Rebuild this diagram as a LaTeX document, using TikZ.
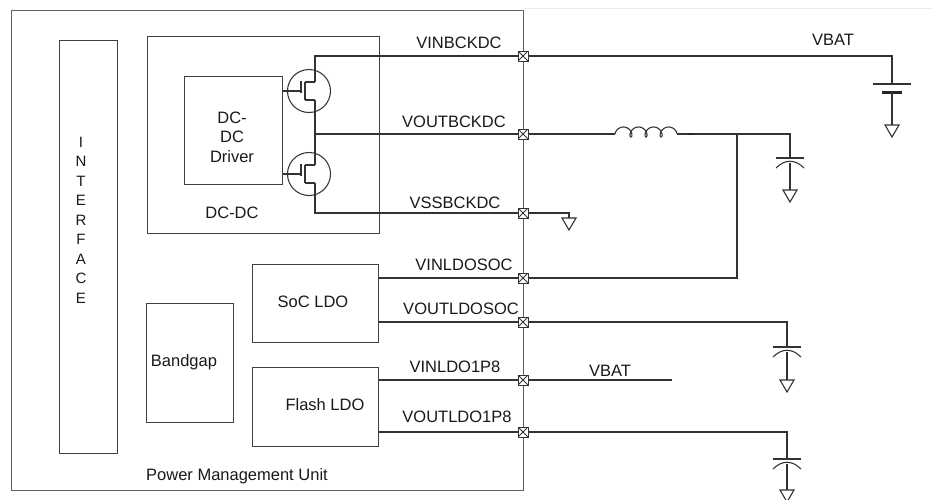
\documentclass[tikz,border=0pt]{standalone}
\usepackage{fontspec}
\setmainfont{Liberation Sans}
\begin{document}
\begin{tikzpicture}[x=1pt,y=-1pt,
  wire/.style={draw=black!80,line width=1.1pt},
  blk/.style={draw=black!75,line width=1.1pt},
  lbl/.style={font=\fontsize{16.5}{19}\selectfont,text=black!90,inner sep=0pt},
  pad/.style={draw=black!80,fill=white,line width=1pt,minimum size=10pt,inner sep=0pt,
    path picture={\draw[black!80,line width=0.8pt] (path picture bounding box.north west)--(path picture bounding box.south east)
      (path picture bounding box.north east)--(path picture bounding box.south west);}},
  gnd/.pic={\draw[black!80,line width=1.1pt,fill=white] (-7,0)--(7,0)--(0,12)--cycle;},
  capp/.pic={\draw[black!80,line width=1.1pt] (-14,0)--(14,0);
     \draw[black!80,line width=1.1pt] (-14,10) .. controls (-5,1) and (5,1) .. (14,10);}
]
\useasboundingbox (0,0) rectangle (933,499);
\draw[black!8,line width=1pt] (523,8)--(933,8);

% main box
\node[blk,draw=black!62,minimum width=512pt,minimum height=480pt,anchor=north west,inner sep=0pt] (pmu) at (11,10) {};
\node[lbl,anchor=west] (pmulbl) at (146,476) {Power Management Unit};

% interface
\node[blk,anchor=north west,minimum width=58pt,minimum height=413pt,inner sep=0pt] (intf) at (59,40) {};
\node[font=\fontsize{15}{19.5}\selectfont,align=center,inner sep=0pt,text=black!90] (intflbl) at (81,220) {I\\N\\T\\E\\R\\F\\A\\C\\E};

% DC-DC
\node[blk,anchor=north west,minimum width=232pt,minimum height=197pt,inner sep=0pt] (dcdc) at (147,36) {};
\node[lbl] (dcdclbl) at (232,213) {DC-DC};
\node[blk,anchor=north west,minimum width=98pt,minimum height=108pt,inner sep=0pt] (drv) at (184,76) {};
\node[lbl,font=\fontsize{16.5}{19.5}\selectfont,align=center] (drvlbl) at (232,137) {DC-\\DC\\Driver};

% mosfets
\node[draw=black!78,line width=1.1pt,circle,minimum size=43pt,inner sep=0pt] (m1) at (309,91) {};
\node[draw=black!78,line width=1.1pt,circle,minimum size=43pt,inner sep=0pt] (m2) at (309,174) {};
\coordinate (g1) at (301,91);
\coordinate (g2) at (301,174);
\draw[wire] (drv.east |- g1) -- (g1);
\draw[wire] (drv.east |- g2) -- (g2);
\fill[black!80] (g1) circle (1.4);
\draw[wire] (301,81)--(301,93);
\draw[wire,line width=1.6pt] (305,82)--(305,100);
\draw[wire] (305,82)--(315,82) (305,100)--(315,100);
\draw[wire] (301,164)--(301,176);
\draw[wire,line width=1.6pt] (305,165)--(305,183);
\draw[wire] (305,165)--(315,165) (305,183)--(315,183);

% LDO and bandgap
\node[blk,anchor=north west,minimum width=126pt,minimum height=78pt,inner sep=0pt] (soc) at (252,264) {};
\node[lbl] (soclbl) at (313,302) {SoC LDO};
\node[blk,anchor=north west,minimum width=126pt,minimum height=79pt,inner sep=0pt] (flash) at (252,367) {};
\node[lbl] (flashlbl) at (325,405) {Flash LDO};
\node[blk,anchor=north west,minimum width=87pt,minimum height=119pt,inner sep=0pt] (bg) at (146,303) {};
\node[lbl] (bglbl) at (184,362) {Bandgap};

% pads
\node[pad] (p1) at (523,56) {};
\node[pad] (p2) at (523,134) {};
\node[pad] (p3) at (523,213) {};
\node[pad] (p4) at (523,278) {};
\node[pad] (p5) at (523,322) {};
\node[pad] (p6) at (523,380) {};
\node[pad] (p7) at (523,432) {};

% pad labels
\node[lbl] at (459,43) {VINBCKDC};
\node[lbl] at (454,122) {VOUTBCKDC};
\node[lbl] at (455,203) {VSSBCKDC};
\node[lbl] at (464,265) {VINLDOSOC};
\node[lbl] at (461,309) {VOUTLDOSOC};
\node[lbl] at (455,367) {VINLDO1P8};
\node[lbl] at (457,417) {VOUTLDO1P8};

% internal wires
\coordinate (d1) at (315,82);
\coordinate (t1) at (315,56);
\coordinate (s1) at (315,100);
\coordinate (mid) at (315,134);
\coordinate (d2) at (315,165);
\coordinate (s2) at (315,183);
\coordinate (bot) at (315,213);
\draw[wire] (d1) -- (t1) -- (p1.west);
\draw[wire] (s1) -- (d2);
\draw[wire] (mid) -- (p2.west);
\draw[wire] (s2) -- (bot) -- (p3.west);
\draw[wire] (soc.east |- p4) -- (p4.west);
\draw[wire] (soc.east |- p5) -- (p5.west);
\draw[wire] (flash.east |- p6) -- (p6.west);
\draw[wire] (flash.east |- p7) -- (p7.west);

% VBAT battery
\coordinate (bt) at (892,56);
\coordinate (bp) at (892,84);
\draw[wire] (p1.east) -- (bt) -- (bp);
\draw[wire] (873,84) -- (911,84);
\draw[black!85,line width=3pt] (882,92) -- (902,92);
\coordinate (bg1) at (892,125);
\draw[wire] (892,92) -- (bg1);
\pic at (bg1) {gnd};
\node[lbl] (vbat1) at (833,40) {VBAT};

% inductor
\coordinate (l1) at (615,134);
\coordinate (l2) at (677,134);
\coordinate (jn) at (737,134);
\coordinate (c1) at (790,134);
\draw[wire] (p2.east) -- (l1);
\draw[wire,line join=round] plot[domain=1.16:23.97,samples=240,variable=\t,smooth]
  ({615 + 2.40*(\t-1.16) - 4*(sin(\t r) - 0.917)}, {137 - 5*(1-cos(\t r))});
\draw[wire] (l2) -- (688,134);
\draw[black!85,line width=2.5pt] (688,134) -- (694,134);
\draw[wire] (694,134) -- (c1) -- (790,158);
\pic at (790,158) {capp};
\draw[wire] (790,163) -- (790,190);
\pic at (790,190) {gnd};
\draw[wire] (jn) -- (jn |- p4) -- (p4.east);

% VSS ground
\coordinate (vg) at (569,213);
\draw[wire] (p3.east) -- (vg) -- (569,218);
\pic at (569,218) {gnd};

% VOUTLDOSOC cap
\coordinate (c2) at (787,322);
\draw[wire] (p5.east) -- (c2) -- (787,347);
\pic at (787,347) {capp};
\draw[wire] (787,352) -- (787,380);
\pic at (787,380) {gnd};

% VINLDO1P8
\coordinate (vb2) at (672,380);
\draw[wire] (p6.east) -- (vb2);
\node[lbl] (vbat2) at (610,371) {VBAT};

% VOUTLDO1P8 cap
\coordinate (c3) at (787,432);
\draw[wire] (p7.east) -- (c3) -- (787,459);
\pic at (787,459) {capp};
\draw[wire] (787,464) -- (787,490);
\pic at (787,490) {gnd};
\end{tikzpicture}
\end{document}
